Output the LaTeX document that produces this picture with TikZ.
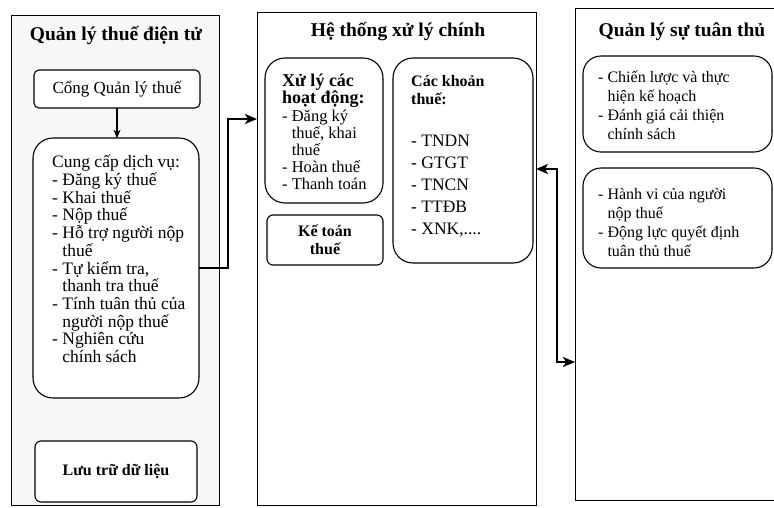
\documentclass[tikz,border=0pt]{standalone}
\usepackage{fontspec}
\setmainfont{Liberation Serif}
\usetikzlibrary{arrows.meta}
\newcommand\ind{\phantom{-\ }}
\newcommand\bodyfont{\fontsize{17.5}{17.7}\selectfont}
\newcommand\titlefont{\fontsize{19.5}{22}\selectfont\bfseries}
\begin{document}
\begin{tikzpicture}[x=1pt,y=-1pt,
  panel/.style={draw, line width=0.9pt, inner sep=0pt, outer sep=0pt},
  box/.style={draw, line width=1.1pt, fill=white, inner sep=0pt, outer sep=0pt},
  rbig/.style={rounded corners=20pt},
  rsmall/.style={rounded corners=5pt},
  ttl/.style={font=\titlefont, inner sep=0pt},
  txt/.style={align=left, inner sep=0pt, anchor=north west, font=\bodyfont},
  conn/.style={line width=2pt, -{Stealth[length=12pt,width=10pt,inset=3pt]}},
  conn2/.style={line width=2pt, {Stealth[length=12pt,width=10pt,inset=3pt]}-{Stealth[length=12pt,width=10pt,inset=3pt]}},
  thinarrow/.style={line width=1.1pt, -{Stealth[length=8pt,width=7pt,inset=2pt]}}
]
\useasboundingbox (0,0) rectangle (774,507);

% panels
\node[panel, fill=gray!6, minimum width=208, minimum height=490] (pl) at (115,260) {};
\node[panel, minimum width=279, minimum height=493] (pm) at (396.5,258.5) {};
\node[inner sep=0pt, outer sep=0pt, minimum width=199, minimum height=492] (pr) at (674.5,254) {};
\draw[line width=0.9pt] (pr.north east) -| (pr.south west) -- (pr.south east);

% titles
\node[ttl] (tl) at (116,36) {Quản lý thuế điện tử};
\node[ttl] (tm) at (398,32) {Hệ thống xử lý chính};
\node[ttl] (tr) at (682,32) {Quản lý sự tuân thủ};

% left panel
\node[box, rsmall, minimum width=166, minimum height=38, font=\fontsize{17}{18}\selectfont] (cong) at (117,89) {Cổng Quản lý thuế};
\node[box, rbig, minimum width=166, minimum height=260] (cung) at (116,268) {};
\node[txt] (cungtxt) at (52,155) {Cung cấp dịch vụ:\\
- Đăng ký thuế\\
- Khai thuế\\
- Nộp thuế\\
- Hỗ trợ người nộp\\
\ind thuế\\
- Tự kiểm tra,\\
\ind thanh tra thuế\\
- Tính tuân thủ của\\
\ind người nộp thuế\\
- Nghiên cứu\\
\ind chính sách};
\node[box, rounded corners=6pt, minimum width=162, minimum height=61, font=\fontsize{16}{18}\selectfont\bfseries] (luu) at (116,471.5) {Lưu trữ dữ liệu};

% middle panel
\node[box, rbig, minimum width=118, minimum height=145] (xuly) at (324,130.5) {};
\node[txt, font=\fontsize{16.5}{17.2}\selectfont] (xulytxt) at (282,74) {{\fontsize{18}{17.2}\selectfont\bfseries Xử lý các}\\
{\fontsize{18}{17.2}\selectfont\bfseries hoạt động:}\\
- Đăng ký\\
\ind thuế, khai\\
\ind thuế\\
- Hoàn thuế\\
- Thanh toán};
\node[box, rounded corners=6pt, minimum width=116, minimum height=50, align=center, font=\fontsize{16}{18}\selectfont\bfseries] (ketoan) at (325,240) {Kế toán\\thuế};
\node[box, rbig, minimum width=140, minimum height=205] (khoan) at (463,160.5) {};
\node[txt, font=\fontsize{16}{18}\selectfont\bfseries] (khoanh) at (411,75) {Các khoản\\thuế:};
\node[txt, font=\fontsize{17.5}{22}\selectfont] (khoantxt) at (411,135) {- TNDN\\
- GTGT\\
- TNCN\\
- TTĐB\\
- XNK,....};

% right panel
\node[box, rounded corners=18pt, minimum width=189, minimum height=96] (b1) at (677.5,104) {};
\node[txt, font=\fontsize{16}{19}\selectfont] (b1txt) at (598,71) {- Chiến lược và thực\\
\ind hiện kế hoạch\\
- Đánh giá cải thiện\\
\ind chính sách};
\node[box, rounded corners=18pt, minimum width=189, minimum height=100] (b2) at (677.5,218) {};
\node[txt, font=\fontsize{16}{19}\selectfont] (b2txt) at (598,188) {- Hành vi của người\\
\ind nộp thuế\\
- Động lực quyết định\\
\ind tuân thủ thuế};

% connectors
\draw[thinarrow] (cong.south) -- (cong.south |- cung.north);
\draw[conn] (cung.east) -- ++(29,0) |- (pm.west |- 0,119);
\draw[conn2] (pm.east |- 0,169) -| (557,362) -- (pr.west |- 0,362);
\end{tikzpicture}
\end{document}
